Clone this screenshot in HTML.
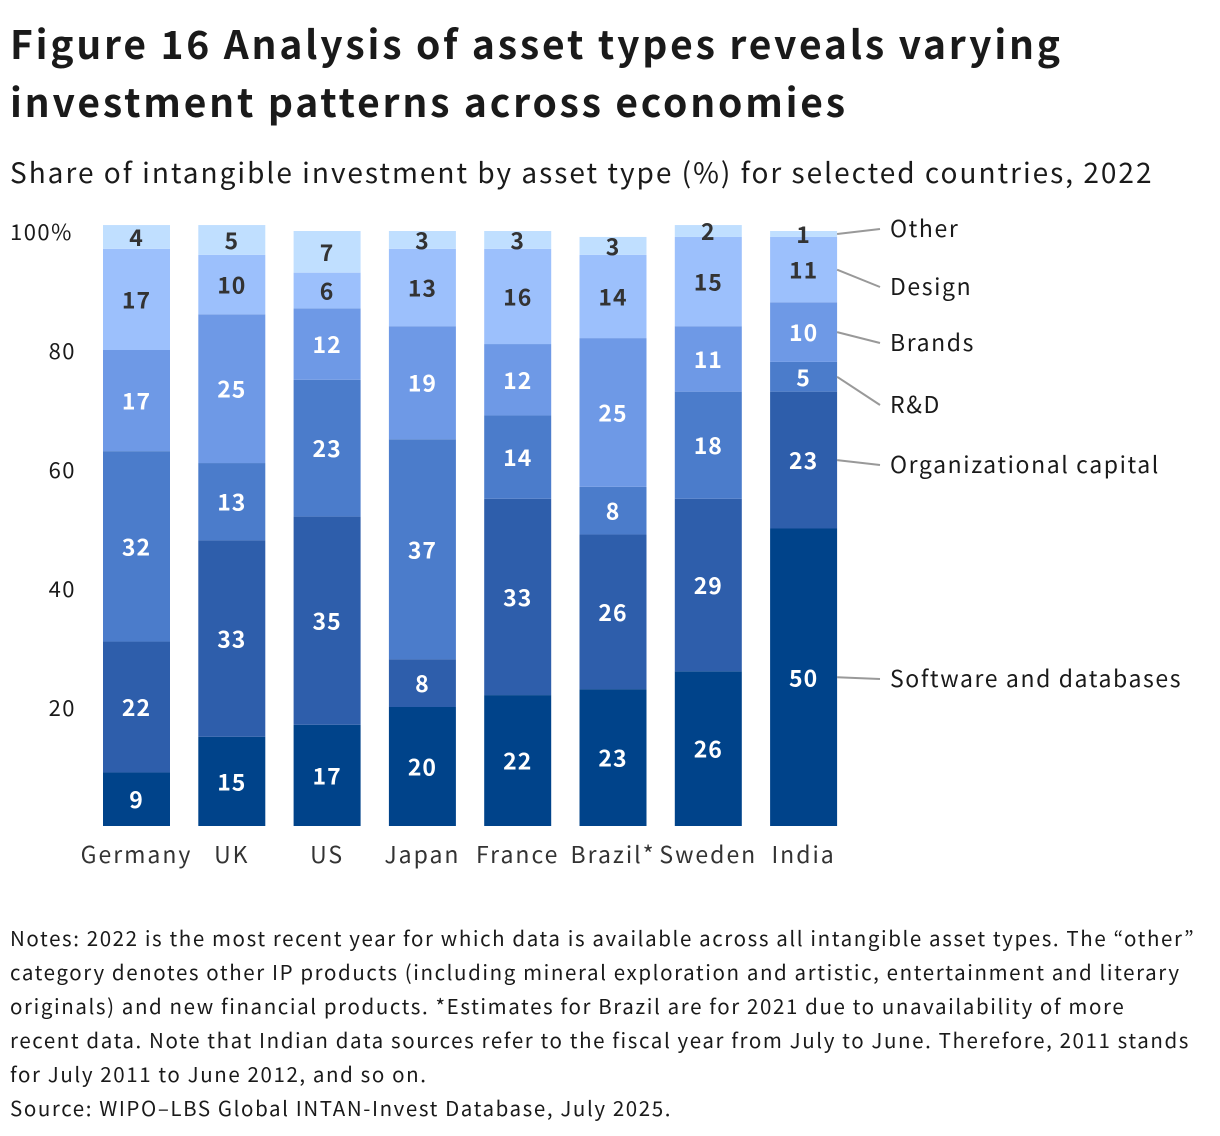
<!DOCTYPE html>
<html><head><meta charset="utf-8">
<style>
body{margin:0;background:#fff;width:1220px;height:1136px;overflow:hidden;font-family:"Noto Sans CJK JP","DejaVu Sans","Liberation Sans",sans-serif;color:#1a1a1a}
h1{position:absolute;left:10px;top:14px;margin:0;font-size:39px;line-height:58px;font-weight:700;width:1200px;letter-spacing:2.8px}
.sub{position:absolute;left:10px;top:152px;font-size:28px;margin:0;letter-spacing:2px}
.notes{position:absolute;left:10px;top:920px;font-size:20.5px;line-height:34px;margin:0;width:1215px;letter-spacing:1.6px;white-space:nowrap}
svg{position:absolute;left:0;top:0}
</style></head><body>
<h1>Figure 16 Analysis of asset types reveals varying investment patterns across economies</h1>
<p class="sub">Share of intangible investment by asset type (%) for selected countries, 2022</p>
<svg id="chart" width="1220" height="1136"></svg>
<p class="notes">Notes: 2022 is the most recent year for which data is available across all intangible asset types. The “other”<br>category denotes other IP products (including mineral exploration and artistic, entertainment and literary<br>originals) and new financial products. *Estimates for Brazil are for 2021 due to unavailability of more<br>recent data. Note that Indian data sources refer to the fiscal year from July to June. Therefore, 2011 stands<br>for July 2011 to June 2012, and so on.<br>Source: WIPO–LBS Global INTAN-Invest Database, July 2025.</p>
<script>
const countries=["Germany","UK","US","Japan","France","Brazil*","Sweden","India"];
const seriesNames=["Software and databases","Organizational capital","R&D","Brands","Design","Other"];
const software=[9,15,17,20,22,23,26,50];
const orgCapital=[22,33,35,8,33,26,29,23];
const rnd=[32,13,23,37,14,8,18,5];
const brands=[17,25,12,19,12,25,11,10];
const design=[17,10,6,13,16,14,15,11];
const other=[4,5,7,3,3,3,2,1];
const yTicks=[20,40,60,80,100];
const series=[software,orgCapital,rnd,brands,design,other];
const colors=["#00438a","#2e5eab","#4b7ccb","#6e99e6","#9cc0fc","#c0dfff"];
const textCol=["#fff","#fff","#fff","#fff","#333","#333"];
const legendY=[679,465,405,343,287,229];
const NS="http://www.w3.org/2000/svg";
const svg=document.getElementById('chart');
const y0=826,pxPer=5.95,x0=103,step=95.3,bw=67;
const y=v=>y0-v*pxPer;
const x=i=>x0+i*step;
function mk(t,a){const e=document.createElementNS(NS,t);for(const k in a)e.setAttribute(k,a[k]);svg.appendChild(e);return e;}
yTicks.forEach(t=>{
  const e=mk('text',{x:t===100?10:76,y:y(t)+9,'font-size':22,fill:'#1a1a1a','text-anchor':t===100?'start':'end','letter-spacing':1.5});
  e.textContent=t===100?'100%':t;
  
  
});
countries.forEach((c,i)=>{
  let cum=0;
  series.forEach((s,k)=>{
    const v=s[i];
    const r=mk('rect',{x:x(i),y:y(cum+v),width:bw,height:v*pxPer,fill:colors[k]});
    
    
    const t=mk('text',{x:x(i)+bw/2,y:y(cum+v/2)+9,'font-size':23,'font-weight':700,fill:textCol[k],'text-anchor':'middle','letter-spacing':1});
    t.textContent=v;
    
    
    cum+=v;
  });
  const l=mk('text',{x:x(i)+bw/2,y:863,'font-size':23,fill:'#333','text-anchor':'middle','letter-spacing':2});
  l.textContent=c;
  
  
});
{const i=countries.length-1;let cum=0;
series.forEach((s,k)=>{
  const v=s[i];const my=y(cum+v/2);cum+=v;
  const ln=mk('line',{x1:x(i)+bw,y1:my,x2:880,y2:legendY[k],stroke:'#999','stroke-width':2});
  
  
  const t=mk('text',{x:890,y:legendY[k]+8,'font-size':23,fill:'#1a1a1a','letter-spacing':1.6});
  t.textContent=seriesNames[k];
  
  
});}
</script>
</body></html>
